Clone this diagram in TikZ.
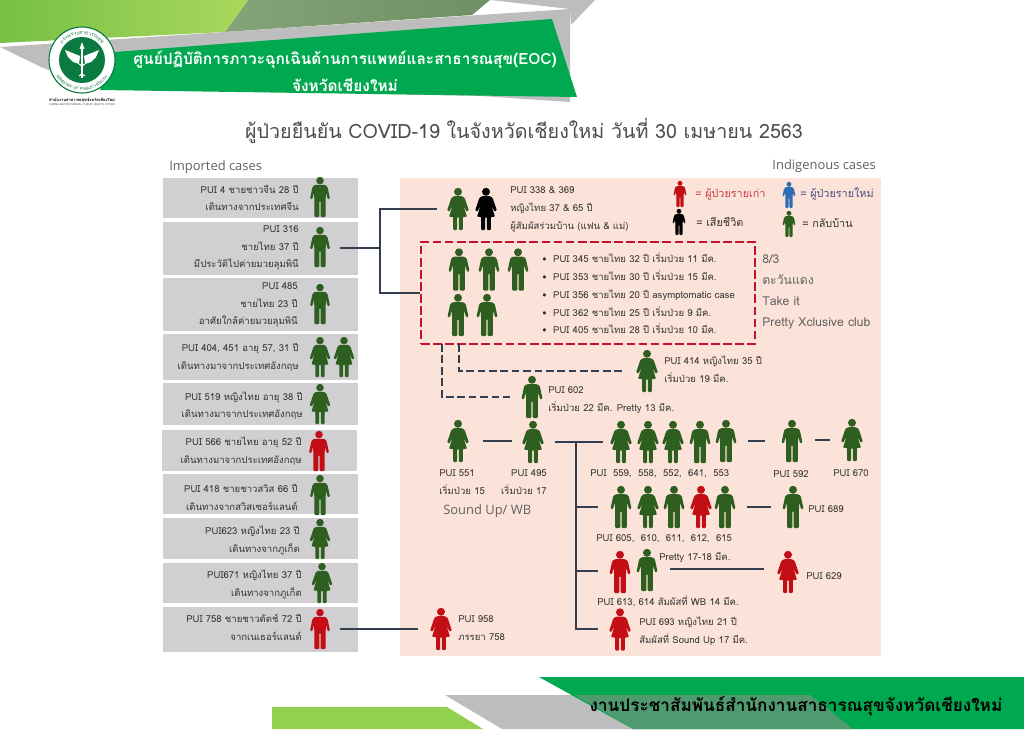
\documentclass[tikz,border=0pt]{standalone}
\usepackage{fontspec}
\setmainfont[Script=Thai]{Loma}
\newfontfamily\latinfont{Open Sans}
\usetikzlibrary{decorations.text}
\definecolor{recovgreen}{HTML}{2F5F20}
\definecolor{oldred}{HTML}{C20E14}
\definecolor{newblue}{HTML}{2E6DB4}
\definecolor{wireblue}{HTML}{333F50}
\definecolor{boxgray}{HTML}{D0CFD1}
\definecolor{pinkbg}{HTML}{FBE3D9}
\definecolor{bannergreen}{HTML}{00A84F}
\definecolor{bandgray}{HTML}{BDBDBD}
\definecolor{txtgray}{HTML}{333333}
\definecolor{logogreen}{HTML}{0B7A40}
\definecolor{dashred}{HTML}{C4122F}
\tikzset{
	manfig/.pic={
		\path[pic actions] (0,-16.4) circle[radius=3.8];
		\path[pic actions, rounded corners=0.7pt] (-5,-12.2) -- (5,-12.2) -- (7.4,-10.5) -- (10,1.5) -- (7.9,2.5) -- (6,-4) -- (5.6,3) -- (5.6,20) -- (0.7,20) -- (0.7,4) -- (-0.7,4) -- (-0.7,20) -- (-5.6,20) -- (-5.6,3) -- (-6,-4) -- (-7.9,2.5) -- (-10,1.5) -- (-7.4,-10.5) -- cycle;
	},
	womanfig/.pic={
		\path[pic actions] (0,-16.4) circle[radius=3.8];
		\path[pic actions, rounded corners=0.7pt] (-4,-12.2) -- (4,-12.2) -- (6.4,-10.5) -- (10.4,1.5) -- (8.2,2.5) -- (5,-4) -- (8.6,7.5) -- (4.6,7.5) -- (4.6,20) -- (0.8,20) -- (0.8,7.5) -- (-0.8,7.5) -- (-0.8,20) -- (-4.6,20) -- (-4.6,7.5) -- (-8.6,7.5) -- (-5,-4) -- (-8.2,2.5) -- (-10.4,1.5) -- (-6.4,-10.5) -- cycle;
	},
	recov/.style={fill=recovgreen},
	oldcase/.style={fill=oldred},
	newcase/.style={fill=newblue},
	dead/.style={fill=black},
	casebox/.style={fill=boxgray, inner sep=0, minimum width=4.875cm},
	casetext/.style={anchor=east, align=right, inner sep=0, text=txtgray, font=\fontsize{6.8}{12.5}\selectfont},
	lbl/.style={anchor=west, align=left, inner sep=0, text=txtgray, font=\fontsize{6.8}{12.6}\selectfont},
	keylbl/.style={lbl, font=\fontsize{7.7}{12.6}\selectfont},
	midlbl/.style={lbl, anchor=center, align=center},
	biglbl/.style={lbl, text=black!62, font=\latinfont\fontsize{9.2}{14.9}\selectfont},
	wire/.style={draw=wireblue, line width=1.6pt},
	dashwire/.style={wire, dash pattern=on 5.5pt off 2.6pt},
}
\begin{document}
\begin{tikzpicture}[x=0.025cm, y=-0.025cm]
	\useasboundingbox (0,0) rectangle (1024,729);
	% Header and footer bands:
	\path[fill=bandgray] (490,0) -- (595,0) -- (571,25) -- (570,9) -- cycle;
	\path[left color={rgb,255:red,133;green,163;blue,120}, right color={rgb,255:red,110;green,144;blue,98}] (248,0) -- (490,0) -- (472,15) -- (225,32) -- cycle;
	\path[left color={rgb,255:red,118;green,192;blue,70}, right color={rgb,255:red,170;green,216;blue,92}] (0,0) -- (248,0) -- (225,32) -- (0,43) -- cycle;
	\path[fill=bandgray] (0,47) -- (570,9) -- (570,102) -- (480,96) -- (103,88) -- (43,68) -- cycle;
	\path[fill=bannergreen] (115,52) -- (552,19) -- (577,97) -- (100,90) -- cycle;
	\path[fill={rgb,255:red,146;green,208;blue,80}] (272,707) -- (447,707) -- (483,729) -- (272,729) -- cycle;
	\path[fill=bandgray] (445,695) -- (810,695) -- (853,729) -- (502,729) -- cycle;
	\path[fill=bannergreen] (539,677) -- (1024,677) -- (1024,729) -- (633,729) -- cycle;
	\path[fill={rgb,255:red,80;green,154;blue,112}] (575,695) -- (810,695) -- (853,729) -- (633,729) -- cycle;
	% Logo:
	\begin{scope}[shift={(82,60)}, x=0.025cm, y=0.025cm]
		\draw[fill=white, draw=logogreen, line width=0.8pt] (0,0) circle[radius=33];
		\fill[logogreen] (0,0) circle[radius=23];
		\path[postaction={decorate, decoration={text along path, text align=center, text={|\fontsize{3.6}{4}\selectfont\color{logogreen}|กระทรวงสาธารณสุข}}}] (170:25.5) arc[start angle=170, end angle=10, radius=25.5];
		\path[postaction={decorate, decoration={text along path, text align=center, text={|\fontsize{2.9}{3.2}\selectfont\color{logogreen}|MINISTRY OF PUBLIC HEALTH}}}] (190:30.5) arc[start angle=190, end angle=350, radius=30.5];
		\fill[white] (-1,-18) rectangle (1,11);
		\fill[white] (0,18) -- (2.5,11) -- (-2.5,11) -- cycle;
		\fill[white] (-2,4) -- (-17,10) -- (-14,3) -- (-9,-2) -- (-3,-4) -- cycle;
		\fill[white] (2,4) -- (17,10) -- (14,3) -- (9,-2) -- (3,-4) -- cycle;
		\draw[white, line width=0.7pt] (-3,-16) .. controls (5,-12) and (-5,-8) .. (3,-4);
		\draw[white, line width=0.7pt] (3,-16) .. controls (-5,-12) and (5,-8) .. (-3,-4);
	\end{scope}
	\node[midlbl, text=black, font=\bfseries\fontsize{2.9}{3.2}\selectfont](logoth) at (82,100.5){สำนักงานสาธารณสุขจังหวัดเชียงใหม่};
	\node[midlbl, text=black!70, font=\fontsize{1.9}{2.2}\selectfont](logoen) at (82,105){CHIANG MAI PROVINCIAL PUBLIC HEALTH OFFICE};
	% Titles:
	\node[midlbl, text=white, font=\bfseries\fontsize{11}{19}\selectfont](bannertxt) at (345,71){ศูนย์ปฏิบัติการภาวะฉุกเฉินด้านการแพทย์และสาธารณสุข(EOC)\\จังหวัดเชียงใหม่};
	\node[midlbl, text=black, font=\bfseries\fontsize{12.2}{14}\selectfont](foottxt) at (796,706){งานประชาสัมพันธ์สำนักงานสาธารณสุขจังหวัดเชียงใหม่};
	\node[midlbl, text=black!70, font=\fontsize{14}{16}\selectfont](title) at (524,131){ผู้ป่วยยืนยัน COVID-19 ในจังหวัดเชียงใหม่ วันที่ 30 เมษายน 2563};
	\node[biglbl](imported) at (169,167){Imported cases};
	\node[biglbl, anchor=east](indigenous) at (876,166){Indigenous cases};
	% Case boxes:
	\node[fill=pinkbg, inner sep=0, minimum width=12.025cm, minimum height=11.95cm](zone) at (640.5,417){};
	\node[casebox, minimum height=1cm](box1) at (260.5,198){};
	\node[casebox, minimum height=1.325cm](box2) at (260.5,248.5){};
	\node[casebox, minimum height=1.325cm](box3) at (260.5,304.5){};
	\node[casebox, minimum height=1.15cm](box4) at (260.5,357){};
	\node[casebox, minimum height=1.05cm](box5) at (260.5,404){};
	\node[casebox, minimum height=1.025cm](box6) at (259.5,450.5){};
	\node[casebox, minimum height=1cm](box7) at (260.5,494){};
	\node[casebox, minimum height=1.025cm](box8) at (260.5,538.5){};
	\node[casebox, minimum height=1cm](box9) at (260.5,583){};
	\node[casebox, minimum height=1.125cm](box10) at (260.5,629.5){};
	\node[casetext](txt1) at (299,198){PUI 4 ชายชาวจีน 28 ปี\\เดินทางจากประเทศจีน};
	\node[casetext](txt2) at (299,248){PUI 316\\ชายไทย 37 ปี\\มีประวัติไปค่ายมวยลุมพินี};
	\node[casetext](txt3) at (298,305){PUI 485\\ชายไทย 23 ปี\\อาศัยใกล้ค่ายมวยลุมพินี};
	\node[casetext](txt4) at (299,357.5){PUI 404, 451 อายุ 57, 31 ปี\\เดินทางมาจากประเทศอังกฤษ};
	\node[casetext](txt5) at (303,405.5){PUI 519 หญิงไทย อายุ 38 ปี\\เดินทางมาจากประเทศอังกฤษ};
	\node[casetext](txt6) at (302,451){PUI 566 ชายไทย อายุ 52 ปี\\เดินทางมาจากประเทศอังกฤษ};
	\node[casetext](txt7) at (298,497.5){PUI 418 ชายชาวสวิส 66 ปี\\เดินทางจากสวิสเซอร์แลนด์};
	\node[casetext](txt8) at (300,540.5){PUI623 หญิงไทย 23 ปี\\เดินทางจากภูเก็ต};
	\node[casetext](txt9) at (302,584.5){PUI671 หญิงไทย 37 ปี\\เดินทางจากภูเก็ต};
	\node[casetext](txt10) at (302,627.5){PUI 758 ชายชาวดัตช์ 72 ปี\\จากเนเธอร์แลนด์};
	% Imported people:
	\pic[recov] (pui4) at (320,197) {manfig};
	\pic[recov] (pui316) at (320,247) {manfig};
	\pic[recov] (pui485) at (320,304) {manfig};
	\pic[recov] (pui404) at (320,357) {womanfig};
	\pic[recov] (pui451) at (344,357) {womanfig};
	\pic[recov] (pui519) at (320,404) {womanfig};
	\pic[oldcase] (pui566) at (319,451) {manfig};
	\pic[recov] (pui418) at (320,495) {manfig};
	\pic[recov] (pui623) at (320,539) {womanfig};
	\pic[recov] (pui671) at (322,583) {womanfig};
	\pic[oldcase] (pui758) at (320,629) {manfig};
	% Legend:
	\pic[oldcase, scale=0.65] (keyold) at (680,194) {manfig};
	\pic[newcase, scale=0.65] (keynew) at (789,195) {manfig};
	\pic[dead, scale=0.65] (keydead) at (679,222) {manfig};
	\pic[recov, scale=0.65] (keyrecov) at (789,224) {manfig};
	\node[keylbl, text=oldred!80!white](keyoldtxt) at (695,194){= ผู้ป่วยรายเก่า};
	\node[keylbl, text=blue!30!black!70](keynewtxt) at (800,194){= ผู้ป่วยรายใหม่};
	\node[keylbl](keydeadtxt) at (696,222){= เสียชีวิต};
	\node[keylbl](keyrecovtxt) at (802,223){= กลับบ้าน};
	% Household of 316:
	\pic[recov, scale=1.05] (pui338) at (458,209) {womanfig};
	\pic[dead, scale=1.05] (pui369) at (486,209) {womanfig};
	\node[lbl](txt338) at (510,209.5){PUI 338 \& 369\\หญิงไทย 37 \& 65 ปี\\ผู้สัมผัสร่วมบ้าน (แฟน \& แม่)};
	% Boxing stadium cluster:
	\node[draw=dashred, line width=1.8pt, dash pattern=on 6.2pt off 2.4pt, inner sep=0, minimum width=8.35cm, minimum height=2.55cm](redbox) at (588,293){};
	\pic[recov, scale=1.05] (pui345) at (459,269.5) {manfig};
	\pic[recov, scale=1.05] (pui353) at (489,269.5) {manfig};
	\pic[recov, scale=1.05] (pui356) at (518,269.5) {manfig};
	\pic[recov, scale=1.05] (pui362) at (458,315) {manfig};
	\pic[recov, scale=1.05] (pui405) at (487,315) {manfig};
	\node[lbl](txt345) at (542,293.5){• \ PUI 345 ชายไทย 32 ปี เริ่มป่วย 11 มีค.\\• \ PUI 353 ชายไทย 30 ปี เริ่มป่วย 15 มีค.\\• \ PUI 356 ชายไทย 20 ปี asymptomatic case\\• \ PUI 362 ชายไทย 25 ปี เริ่มป่วย 9 มีค.\\• \ PUI 405 ชายไทย 28 ปี เริ่มป่วย 10 มีค.};
	\node[biglbl, font=\fontsize{8.7}{14.9}\selectfont](clubs) at (762,291.5){8/3\\ตะวันแดง\\Take it\\Pretty Xclusive club};
	% Later contacts:
	\pic[recov, scale=1.05] (pui414) at (647,371) {womanfig};
	\node[lbl](txt414) at (664,369){PUI 414 หญิงไทย 35 ปี\\เริ่มป่วย 19 มีค.};
	\pic[recov, scale=1.05] (pui602) at (532,397) {manfig};
	\node[lbl](txt602) at (548,400){PUI 602\\เริ่มป่วย 22 มีค. Pretty 13 มีค.};
	\pic[recov, scale=1.05] (pui551) at (458,441) {womanfig};
	\pic[recov, scale=1.05] (pui495) at (533,442) {womanfig};
	\node[lbl](txt551) at (439,482){PUI 551\\เริ่มป่วย 15};
	\node[casetext](txt495) at (547,482){PUI 495\\เริ่มป่วย 17};
	\node[biglbl](soundup) at (443,511){Sound Up/ WB};
	% First group:
	\pic[recov, scale=1.05] (pui559) at (621,442) {womanfig};
	\pic[recov, scale=1.05] (pui558) at (648,442) {womanfig};
	\pic[recov, scale=1.05] (pui552) at (673,442) {womanfig};
	\pic[recov, scale=1.05] (pui641) at (700,442) {manfig};
	\pic[recov, scale=1.05] (pui553) at (726,441) {manfig};
	\pic[recov, scale=1.05] (pui592) at (792,441) {manfig};
	\pic[recov, scale=1.05] (pui670) at (852,440) {womanfig};
	\node[lbl](txt559) at (590,473.5){PUI \ 559, \ 558, \ 552, \ 641, \ 553};
	\node[midlbl](txt592) at (791,474){PUI 592};
	\node[midlbl](txt670) at (851,473){PUI 670};
	% Second group:
	\pic[recov, scale=1.05] (pui605) at (621,507) {manfig};
	\pic[recov, scale=1.05] (pui610) at (648,507) {womanfig};
	\pic[recov, scale=1.05] (pui611) at (674,507) {manfig};
	\pic[oldcase, scale=1.05] (pui612) at (701,507) {womanfig};
	\pic[recov, scale=1.05] (pui615) at (725,507) {manfig};
	\pic[recov, scale=1.05] (pui689) at (793,507) {manfig};
	\node[lbl](txt605) at (596,539){PUI 605, \ 610, \ 611, \ 612, \ 615};
	\node[lbl](txt689) at (808,509){PUI 689};
	% Third group:
	\pic[oldcase, scale=1.05] (pui613) at (620,572) {manfig};
	\pic[recov, scale=1.05] (pui614) at (647,570) {manfig};
	\pic[oldcase, scale=1.05] (pui629) at (788,572) {womanfig};
	\pic[oldcase, scale=1.05] (pui693) at (620,629.5) {womanfig};
	\node[lbl](txtpretty) at (659,557){Pretty 17-18 มีค.};
	\node[lbl](txt629) at (806,576){PUI 629};
	\node[lbl](txt613) at (597,601){PUI 613, 614 สัมผัสที่ WB 14 มีค.};
	\node[lbl](txt693) at (639,631.5){PUI 693 หญิงไทย 21 ปี\\สัมผัสที่ Sound Up 17 มีค.};
	\pic[oldcase, scale=1.05] (pui958) at (441,629) {womanfig};
	\node[lbl](txt958) at (458,628){PUI 958\\ภรรยา 758};
	% Wires:
	\coordinate (w316) at (340,248);
	\coordinate (hub316) at (380,248);
	\coordinate (w338) at (437,209);
	\draw[wire] (w316) -- (hub316);
	\draw[wire] (w338) -| (hub316) |- (redbox.west);
	\coordinate (w758) at (340,629);
	\coordinate (w958) at (418,629);
	\draw[wire] (w758) -- (w958);
	\coordinate (dashA) at (442,344);
	\coordinate (dashB) at (459,344);
	\coordinate (w602) at (510,397);
	\coordinate (w414) at (624,371);
	\draw[dashwire] (dashA) |- (w602);
	\draw[dashwire] (dashB) |- (w414);
	\coordinate (w551) at (483,441);
	\coordinate (w495) at (512,441);
	\draw[wire] (w551) -- (w495);
	\coordinate (w495b) at (555,442);
	\coordinate (w559) at (603,442);
	\coordinate (hub495) at (576,442);
	\coordinate (w605) at (598,507);
	\coordinate (w613) at (598,571);
	\coordinate (w693) at (598,629);
	\draw[wire] (w495b) -- (w559);
	\draw[wire] (hub495) |- (w693);
	\draw[wire] (hub495 |- w605) -- (w605);
	\draw[wire] (hub495 |- w613) -- (w613);
	\coordinate (w553) at (748,441);
	\coordinate (w592) at (765,441);
	\draw[wire] (w553) -- (w592);
	\coordinate (w592b) at (815,440);
	\coordinate (w670) at (830,440);
	\draw[wire] (w592b) -- (w670);
	\coordinate (w615) at (747,507);
	\coordinate (w689) at (771,507);
	\draw[wire] (w615) -- (w689);
	\coordinate (w614) at (670,569);
	\coordinate (w629) at (764,569);
	\draw[wire] (w614) -- (w629);
\end{tikzpicture}
\end{document}
